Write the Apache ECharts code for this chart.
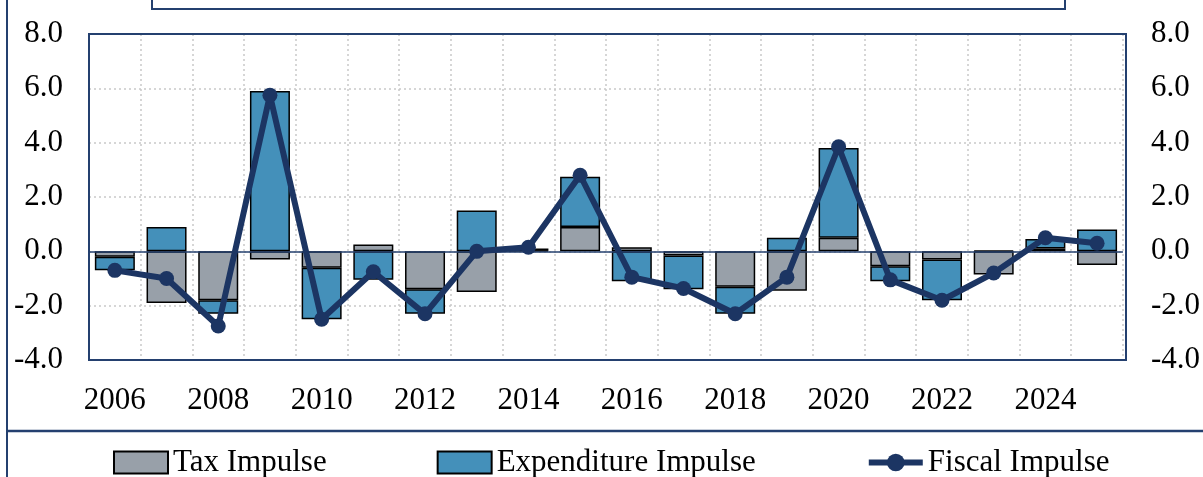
<!DOCTYPE html>
<html>
<head>
<meta charset="utf-8">
<script src="https://cdn.jsdelivr.net/npm/echarts@6/dist/echarts.min.js"></script>
<style>
html,body{margin:0;padding:0;background:#fff;}
#c{width:1203px;height:477px;}
</style>
</head>
<body>
<div id="c"></div>
<script>
const years = ['2006','2007','2008','2009','2010','2011','2012','2013','2014','2015','2016','2017','2018','2019','2020','2021','2022','2023','2024','2025'];
const taxImpulse = [-0.2, -1.9, -1.8, -0.3, -0.6, 0.25, -1.4, -1.5, 0.02, 0.9, 0.15, -0.15, -1.3, -1.45, 0.5, -0.55, -0.3, -0.85, 0.1, -0.5];
const expenditureImpulse = [-0.5, 0.9, -0.5, 5.9, -1.9, -1.05, -0.9, 1.5, 0.08, 1.85, -1.1, -1.25, -1.0, 0.5, 3.3, -0.55, -1.5, 0.03, 0.35, 0.8];
const fiscalImpulse = [-0.7, -1.0, -2.75, 5.75, -2.5, -0.75, -2.3, 0.0, 0.15, 2.8, -0.95, -1.37, -2.3, -0.95, 3.85, -1.05, -1.8, -0.8, 0.5, 0.3];
const yTicks = {min: -4, max: 8, interval: 2};

const FONT = 'Liberation Serif';
const FRAME = '#24406f';
const chart = echarts.init(document.getElementById('c'), null, {renderer: 'canvas'});
const valAxis = (pos, margin) => ({
  type: 'value', position: pos,
  min: yTicks.min, max: yTicks.max, interval: yTicks.interval,
  axisLine: {show: false}, axisTick: {show: false},
  axisLabel: {fontFamily: FONT, fontSize: 31, color: '#000', margin: margin,
    formatter: v => v.toFixed(1)},
  splitLine: {show: pos === 'left', lineStyle: {color: '#c9c9c9', type: [2, 3], width: 1.5}}
});
chart.setOption({
  animation: false,
  textStyle: {fontFamily: FONT},
  grid: {left: 89, top: 34, width: 1037, height: 326, show: false},
  legend: {
    left: 113, top: 447, padding: 0, itemWidth: 54, itemHeight: 22, itemGap: 110,
    textStyle: {fontFamily: FONT, fontSize: 31, color: '#000'},
    data: [
      {name: 'Tax Impulse', icon: 'rect'},
      {name: 'Expenditure Impulse', icon: 'rect'},
      {name: 'Fiscal Impulse', lineStyle: {width: 6, color: '#1c3563'}, itemStyle: {color: '#1c3563'}}
    ]
  },
  xAxis: {
    type: 'category', data: years,
    axisLine: {show: false}, axisTick: {show: false},
    axisLabel: {interval: 1, fontFamily: FONT, fontSize: 31, color: '#000', margin: 25},
    splitLine: {show: true, interval: 0, lineStyle: {color: '#c9c9c9', type: [2, 3], width: 1.5}}
  },
  yAxis: [valAxis('left', 26), valAxis('right', 28)],
  graphic: [
    {type: 'line', shape: {x1: 7, y1: 0, x2: 7, y2: 477}, style: {stroke: FRAME, lineWidth: 2}},
    {type: 'line', shape: {x1: 7, y1: 431, x2: 1203, y2: 431}, style: {stroke: FRAME, lineWidth: 2.5}},
    {type: 'rect', shape: {x: 152, y: -20, width: 913, height: 29}, style: {fill: '#fff', stroke: FRAME, lineWidth: 2}},
    {type: 'rect', z: 100, shape: {x: 89, y: 34, width: 1037, height: 326}, style: {fill: null, stroke: FRAME, lineWidth: 2}}
  ],
  series: [
    {
      name: 'Tax Impulse', type: 'bar', stack: 'imp', data: taxImpulse, barWidth: 40,
      itemStyle: {color: '#98a0a9', borderColor: '#000', borderWidth: 1.5},
      markLine: {silent: true, symbol: 'none', label: {show: false},
        lineStyle: {color: FRAME, type: 'solid', width: 1.5}, data: [{yAxis: 0}]}
    },
    {
      name: 'Expenditure Impulse', type: 'bar', stack: 'imp', data: expenditureImpulse, barWidth: 40,
      itemStyle: {color: '#4490ba', borderColor: '#000', borderWidth: 1.5}
    },
    {
      name: 'Fiscal Impulse', type: 'line', data: fiscalImpulse, z: 5,
      symbol: 'circle', symbolSize: 15,
      lineStyle: {color: '#1c3563', width: 6},
      itemStyle: {color: '#1c3563'}
    }
  ]
});
</script>
</body>
</html>
